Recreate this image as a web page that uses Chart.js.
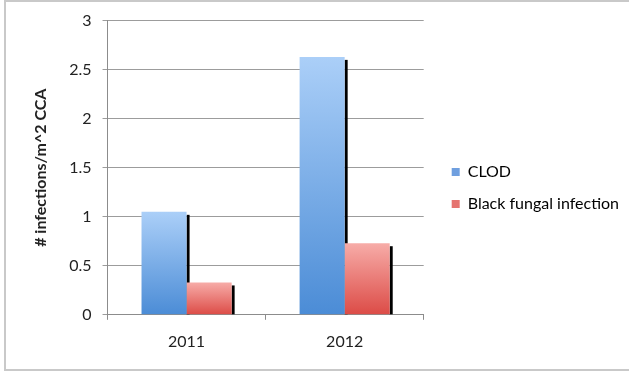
<!DOCTYPE html>
<html>
<head>
<meta charset="utf-8">
<script src="https://cdn.jsdelivr.net/npm/chart.js@4/dist/chart.umd.min.js"></script>
<style>
  html, body { margin: 0; padding: 0; background: #ffffff; overflow: hidden; }
  #wrap { position: relative; width: 629px; height: 374px; }
  #frame { position: absolute; left: 4px; top: 0px; width: 660px; height: 371px; border: 2px solid #c9c9c9; box-sizing: border-box; }
  canvas { position: absolute; left: 0; top: 0; }
</style>
</head>
<body>
<div id="wrap">
  <div id="frame"></div>
  <canvas id="c" width="629" height="374"></canvas>
</div>
<script>
const categories = ['2011', '2012'];
const clodValues = [1.05, 2.63];
const blackFungalValues = [0.33, 0.73];
const seriesNames = ['CLOD', 'Black fungal infection'];
const yTickLabels = ['0', '0.5', '1', '1.5', '2', '2.5', '3'];
const yAxisTitle = '# infections/m^2 CCA';

const FONT = 'Lato, "Open Sans", sans-serif';

function barGradient(top, bottom) {
  return function (ctx) {
    const chart = ctx.chart;
    const y = chart.scales && chart.scales.y;
    if (!y || ctx.raw === undefined) return bottom;
    const yTop = y.getPixelForValue(ctx.raw);
    const yBase = y.getPixelForValue(0);
    if (!isFinite(yTop) || !isFinite(yBase) || yTop === yBase) return bottom;
    const g = chart.ctx.createLinearGradient(0, yTop, 0, yBase);
    g.addColorStop(0, top);
    g.addColorStop(1, bottom);
    return g;
  };
}

const legendColors = ['#6f9fdf', '#e57470'];

const shadowPlugin = {
  id: 'barShadow',
  beforeDatasetsDraw(chart) {
    const c = chart.ctx;
    c.save();
    c.fillStyle = '#000000';
    chart.data.datasets.forEach((ds, i) => {
      const meta = chart.getDatasetMeta(i);
      meta.data.forEach(el => {
        const p = el.getProps(['x', 'y', 'base', 'width'], true);
        const right = p.x + p.width / 2;
        c.fillRect(right, p.y + 3, 3, p.base - p.y - 3);
      });
    });
    c.restore();
  }
};

new Chart(document.getElementById('c'), {
  type: 'bar',
  data: {
    labels: categories,
    datasets: [
      {
        label: seriesNames[0],
        data: clodValues,
        backgroundColor: barGradient('#abcff8', '#4b8cd6'),
        borderWidth: 0,
        categoryPercentage: 0.57,
        barPercentage: 1.0
      },
      {
        label: seriesNames[1],
        data: blackFungalValues,
        backgroundColor: barGradient('#f7aca8', '#dc4b46'),
        borderWidth: 0,
        categoryPercentage: 0.57,
        barPercentage: 1.0
      }
    ]
  },
  options: {
    responsive: false,
    animation: false,
    devicePixelRatio: 1,
    layout: { padding: { left: 31, top: 13, right: 0, bottom: 11 } },
    plugins: {
      tooltip: { enabled: false },
      legend: {
        position: 'right',
        align: 'center',
        maxWidth: 220,
        labels: {
          boxWidth: 8,
          boxHeight: 8,
          padding: 16,
          color: '#222222',
          font: { family: FONT, size: 16 },
          generateLabels(chart) {
            return chart.data.datasets.map((ds, i) => ({
              text: ds.label,
              fillStyle: legendColors[i],
              strokeStyle: legendColors[i],
              lineWidth: 0,
              hidden: false,
              datasetIndex: i
            }));
          }
        }
      }
    },
    scales: {
      x: {
        offset: true,
        grid: {
          display: true,
          offset: true,
          drawOnChartArea: false,
          drawTicks: true,
          tickLength: 5,
          color: '#8c8c8c'
        },
        border: { display: true, color: '#8c8c8c', width: 1 },
        ticks: {
          color: '#222222',
          font: { family: FONT, size: 16 },
          padding: 12
        }
      },
      y: {
        min: 0,
        max: 3,
        ticks: {
          stepSize: 0.5,
          color: '#222222',
          font: { family: FONT, size: 16 },
          padding: 11,
          callback: (v, i) => yTickLabels[i]
        },
        grid: {
          color: '#9c9c9c',
          tickLength: 5,
          drawTicks: true
        },
        border: { display: true, color: '#8c8c8c', width: 1 },
        title: {
          display: true,
          text: yAxisTitle,
          color: '#222222',
          font: { family: FONT, size: 16, weight: 'bold' },
          padding: { top: 0, bottom: 8 }
        }
      },
      gap: {
        type: 'linear',
        position: 'right',
        display: true,
        grid: { display: false, drawTicks: false },
        border: { display: false },
        ticks: { display: false },
        afterFit(scale) { scale.width = 12; }
      }
    }
  },
  plugins: [shadowPlugin]
});
</script>
</body>
</html>
